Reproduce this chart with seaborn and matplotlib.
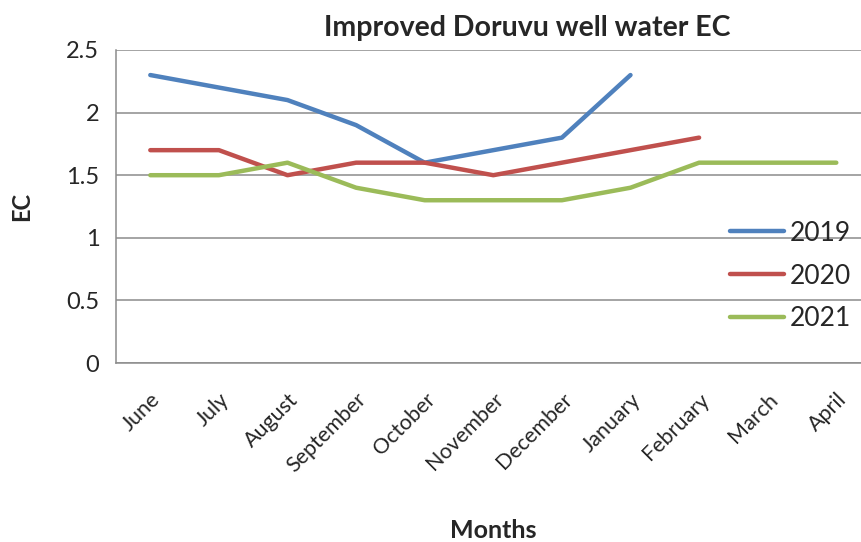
import pandas as pd
import numpy as np
import matplotlib
matplotlib.use('Agg')
import matplotlib.pyplot as plt
import seaborn as sns

months = ['June', 'July', 'August', 'September', 'October', 'November',
          'December', 'January', 'February', 'March', 'April']
ec_2019 = [2.3, 2.2, 2.1, 1.9, 1.6, 1.7, 1.8, 2.3]
ec_2020 = [1.7, 1.7, 1.5, 1.6, 1.6, 1.5, 1.6, 1.7, 1.8]
ec_2021 = [1.5, 1.5, 1.6, 1.4, 1.3, 1.3, 1.3, 1.4, 1.6, 1.6, 1.6]
years = ['2019', '2020', '2021']
colors = ['#4F81BD', '#C0504D', '#9BBB59']

# long-form table
rows = []
for yr, vals in zip(years, [ec_2019, ec_2020, ec_2021]):
    for i, v in enumerate(vals):
        rows.append({'Month': months[i], 'pos': i, 'EC': v, 'Year': yr})
data = pd.DataFrame(rows)

sns.set_style('white')
plt.rcParams['font.family'] = ['Lato', 'DejaVu Sans']

fig = plt.figure(figsize=(8.62, 5.42), dpi=100)
ax = fig.add_axes([116/862, 1 - 363/542, (870.6 - 116)/862, (363 - 50)/542])

sns.lineplot(data=data, x='pos', y='EC', hue='Year', palette=colors,
             linewidth=3.2, estimator=None, sort=False, ax=ax, legend=False)
for ln in ax.lines:
    ln.set_solid_capstyle('round')
    ln.set_solid_joinstyle('round')
    ln.set_clip_on(False)

ax.set_xlim(-0.5, 10.5)
ax.set_ylim(0, 2.5)
ax.set_yticks([0, 0.5, 1, 1.5, 2, 2.5])
ax.set_yticklabels(['0', '0.5', '1', '1.5', '2', '2.5'], fontsize=17)
ax.yaxis.grid(True, color='#8c8c8c', linewidth=1.1)
ax.set_axisbelow(True)

ax.set_xticks(range(len(months)))
ax.set_xticklabels(months, rotation=45, ha='right', rotation_mode='anchor', fontsize=15.5)
ax.set_xticks(np.arange(-0.5, 11, 1), minor=True)
ax.tick_params(axis='x', which='major', length=0, pad=19)
ax.tick_params(axis='x', which='minor', length=7, color='#8c8c8c', width=1.1, direction='out')
ax.tick_params(axis='y', length=8, color='#8c8c8c', width=1.1, direction='out', pad=4)

for s in ['top', 'right']:
    ax.spines[s].set_visible(False)
for s in ['left', 'bottom']:
    ax.spines[s].set_color('#8c8c8c')
    ax.spines[s].set_linewidth(1.1)

ax.set_xlabel('')
ax.set_ylabel('')
fig.text(22/862, 1 - 206/542, 'EC', rotation=90, fontsize=17, fontweight='bold',
         ha='center', va='center')
fig.text(493/862, 1 - 530/542, 'Months', fontsize=18, fontweight='bold',
         ha='center', va='center')
fig.text(527/862, 1 - 28/542, 'Improved Doruvu well water EC', fontsize=20.5,
         fontweight='bold', ha='center', va='center')

handles = [plt.Line2D([], [], color=c, lw=3.2, solid_capstyle='round') for c in colors]
fig.legend(handles, years, loc='center left', bbox_to_anchor=(730/862, 1 - 276/542),
           frameon=False, fontsize=19, handlelength=2.05, handletextpad=0.2,
           labelspacing=0.68, borderpad=0, borderaxespad=0)

fig.savefig('out.png', dpi=100)
